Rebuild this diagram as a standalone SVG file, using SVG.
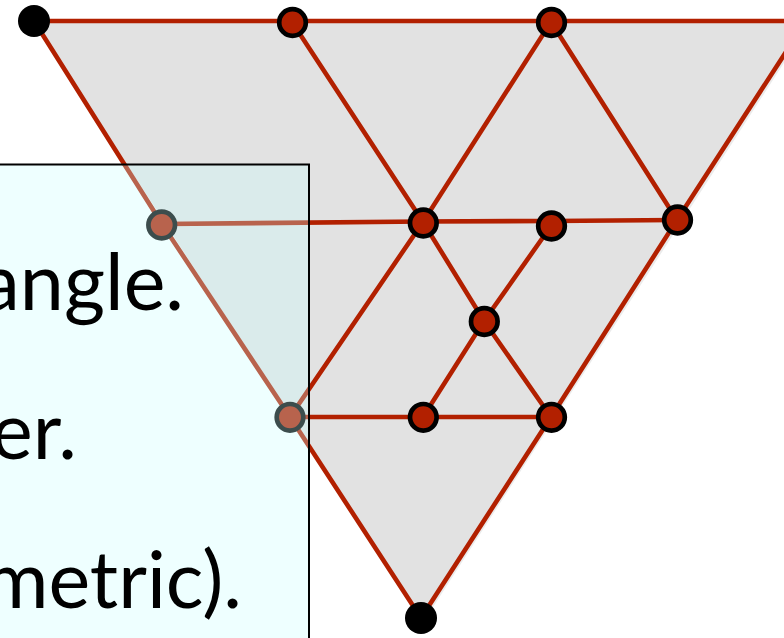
<svg xmlns="http://www.w3.org/2000/svg" width="784" height="638" viewBox="0 0 784 638">
  <style>
    .edge { stroke: #B22000; stroke-width: 4.6; fill: none; stroke-linecap: round; }
    .node { fill: #B22000; stroke: #000; stroke-width: 4.7; }
    .vertex { fill: #000; }
    .txt { font-family: "Lato", "Open Sans", sans-serif; font-size: 79px; fill: #000; }
  </style>
  <rect width="784" height="638" fill="#FFFFFF"/>
  <polygon id="triangle-shadow" points="37,24 809,24 424,621" fill="#EBEBEB"/>
  <polygon id="triangle" points="34,21 806,21 421,618" fill="#E2E2E2"/>
  <g id="connectors">
    <line class="edge" x1="34" y1="21" x2="806" y2="21"/>
    <polyline class="edge" points="34,21 162,224 290,417 421,618"/>
    <polyline class="edge" points="806,21 677,220 551,417 421,618"/>
    <polyline class="edge" points="292,22 423,222 484,321 551,417"/>
    <polyline class="edge" points="551,22 423,222 290,417"/>
    <line class="edge" x1="551" y1="22" x2="677" y2="220"/>
    <polyline class="edge" points="162,224 423,221.5 551,221 677,220"/>
    <polyline class="edge" points="551,226 484,321 423,417"/>
    <line class="edge" x1="290" y1="417" x2="551" y2="417"/>
  </g>
  <g id="v-top-left"><circle class="vertex" cx="34" cy="21" r="16"/></g>
  <g id="v-bottom"><circle class="vertex" cx="421" cy="618" r="16"/></g>
  <g id="n-top-1"><circle class="node" cx="292.5" cy="22.5" r="13.3"/></g>
  <g id="n-top-2"><circle class="node" cx="551.5" cy="22.5" r="13.3"/></g>
  <g id="n-left-1"><circle class="node" cx="161.7" cy="225" r="13.3"/></g>
  <g id="n-mid-1"><circle class="node" cx="423.3" cy="223" r="13.3"/></g>
  <g id="n-mid-2"><circle class="node" cx="551.5" cy="226" r="13.3"/></g>
  <g id="n-right-1"><circle class="node" cx="677.5" cy="220" r="13.3"/></g>
  <g id="n-center"><circle class="node" cx="484.3" cy="321.5" r="13.3"/></g>
  <g id="n-left-2"><circle class="node" cx="290" cy="417.3" r="13.3"/></g>
  <g id="n-low-1"><circle class="node" cx="423.3" cy="417.3" r="13.3"/></g>
  <g id="n-low-2"><circle class="node" cx="551.5" cy="417.3" r="13.3"/></g>
  <g id="textbox">
    <rect x="-10" y="164.5" width="319" height="500" fill="#C8FFFF" fill-opacity="0.3" stroke="#000" stroke-width="2"/>
    <text class="txt" x="184" y="310" text-anchor="end">angle.</text>
    <text class="txt" x="77" y="459" text-anchor="end">er.</text>
    <text class="txt" x="242" y="608" text-anchor="end">metric).</text>
  </g>
</svg>
